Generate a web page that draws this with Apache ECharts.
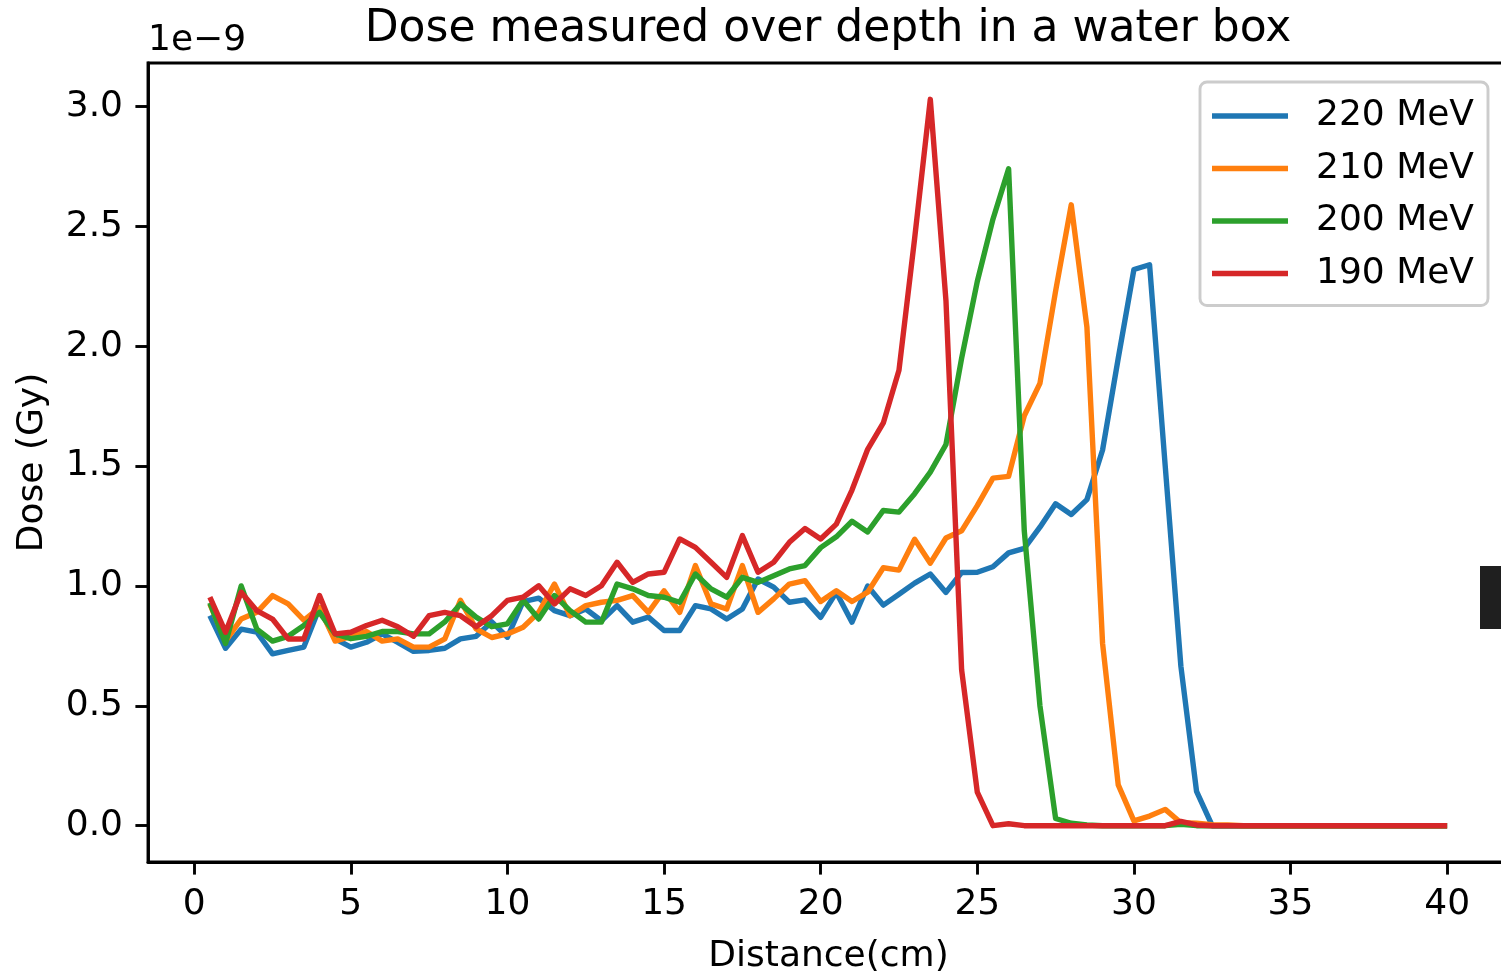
<!DOCTYPE html>
<html>
<head>
<meta charset="utf-8">
<title>Dose measured over depth in a water box</title>
<script src="https://cdn.jsdelivr.net/npm/echarts@6.0.0/dist/echarts.min.js"></script>
<style>
  html, body { margin: 0; padding: 0; background: #ffffff; }
  #doseChart { width: 1501px; height: 973px; }
</style>
</head>
<body>
<div id="doseChart"></div>
<script>
// depth in the water box (cm)
var distance = [
  0.5, 1, 1.5, 2, 2.5, 3, 3.5, 4, 4.5, 5, 5.5, 6, 6.5, 7, 7.5, 8, 8.5, 9, 9.5, 10,
  10.5, 11, 11.5, 12, 12.5, 13, 13.5, 14, 14.5, 15, 15.5, 16, 16.5, 17, 17.5, 18, 18.5, 19, 19.5, 20,
  20.5, 21, 21.5, 22, 22.5, 23, 23.5, 24, 24.5, 25, 25.5, 26, 26.5, 27, 27.5, 28, 28.5, 29, 29.5, 30,
  30.5, 31, 31.5, 32, 32.5, 33, 33.5, 34, 34.5, 35, 35.5, 36, 36.5, 37, 37.5, 38, 38.5, 39, 39.5, 40
];

// dose, in units of 1e-9 Gy
var dose220 = [
  0.876, 0.74, 0.82, 0.807, 0.717, 0.731, 0.745, 0.91, 0.779, 0.745, 0.765, 0.80, 0.765, 0.727, 0.731, 0.74, 0.779, 0.79, 0.85, 0.786,
  0.935, 0.949, 0.897, 0.876, 0.904, 0.855, 0.918, 0.849, 0.87, 0.814, 0.814, 0.918, 0.904, 0.862, 0.904, 1.029, 0.995, 0.932, 0.942, 0.869,
  0.973, 0.849, 1.0, 0.92, 0.965, 1.012, 1.05, 0.973, 1.056, 1.057, 1.08, 1.138, 1.157, 1.245, 1.343, 1.298, 1.36, 1.567, 1.95, 2.32,
  2.34, 1.5, 0.665, 0.143, 0, 0, 0, 0, 0, 0, 0, 0, 0, 0, 0, 0, 0, 0, 0, 0
];
var dose210 = [
  0.925, 0.77, 0.862, 0.89, 0.96, 0.925, 0.857, 0.91, 0.77, 0.79, 0.81, 0.77, 0.779, 0.745, 0.745, 0.779, 0.94, 0.821, 0.785, 0.80,
  0.828, 0.89, 1.008, 0.876, 0.918, 0.932, 0.94, 0.96, 0.89, 0.98, 0.89, 1.085, 0.925, 0.904, 1.085, 0.89, 0.946, 1.008, 1.022, 0.935,
  0.98, 0.935, 0.974, 1.076, 1.066, 1.195, 1.095, 1.20, 1.23, 1.335, 1.45, 1.457, 1.71, 1.845, 2.23, 2.59, 2.08, 0.76, 0.17, 0.02,
  0.04, 0.068, 0.012, 0.01, 0.004, 0.003, 0, 0, 0, 0, 0, 0, 0, 0, 0, 0, 0, 0, 0, 0
];
var dose200 = [
  0.93, 0.76, 1.0, 0.82, 0.77, 0.79, 0.835, 0.89, 0.80, 0.78, 0.79, 0.81, 0.81, 0.80, 0.80, 0.85, 0.925, 0.87, 0.83, 0.842,
  0.94, 0.862, 0.96, 0.897, 0.849, 0.849, 1.008, 0.988, 0.96, 0.953, 0.932, 1.05, 0.988, 0.953, 1.036, 1.015, 1.043, 1.071, 1.085, 1.16,
  1.205, 1.27, 1.225, 1.315, 1.308, 1.385, 1.475, 1.59, 1.95, 2.27, 2.53, 2.74, 1.23, 0.50, 0.03, 0.01, 0.003, 0, 0, 0,
  0, 0, 0.006, 0, 0, 0, 0, 0, 0, 0, 0, 0, 0, 0, 0, 0, 0, 0, 0, 0
];
var dose190 = [
  0.953, 0.807, 0.974, 0.897, 0.862, 0.779, 0.779, 0.96, 0.80, 0.807, 0.835, 0.857, 0.83, 0.79, 0.876, 0.89, 0.876, 0.83, 0.876, 0.94,
  0.953, 1.001, 0.925, 0.988, 0.96, 1.001, 1.099, 1.015, 1.05, 1.057, 1.196, 1.161, 1.099, 1.036, 1.21, 1.057, 1.099, 1.182, 1.24, 1.196,
  1.258, 1.40, 1.57, 1.68, 1.90, 2.45, 3.03, 2.19, 0.65, 0.14, 0, 0.008, 0, 0, 0, 0, 0, 0, 0, 0,
  0, 0, 0.018, 0.003, 0, 0, 0, 0, 0, 0, 0, 0, 0, 0, 0, 0, 0, 0, 0, 0
];

var energyNames = ["220 MeV", "210 MeV", "200 MeV", "190 MeV"];
var xTicks = [0, 5, 10, 15, 20, 25, 30, 35, 40];
var yTicks = [0, 0.5, 1, 1.5, 2, 2.5, 3];

var fontName = "DejaVu Sans";
var doseChart = echarts.init(document.getElementById("doseChart"));

// pair every dose value with its depth
function toPoints(values) {
  return values.map(function (v, i) {
    return [distance[i], v];
  });
}

function makeSeries(name, values) {
  return {
    name: name,
    type: "line",
    data: toPoints(values),
    showSymbol: false,
    symbol: "none",
    lineStyle: { width: 5.4, join: "round" }
  };
}

var option = {
  animation: false,
  color: ["#1f77b4", "#ff7f0e", "#2ca02c", "#d62728"],
  textStyle: { fontFamily: fontName, color: "#000000" },
  title: [
    {
      text: "Dose measured over depth in a water box",
      left: 828,
      top: 30,
      padding: 0,
      textAlign: "center",
      textVerticalAlign: "middle",
      textStyle: { fontSize: 44, fontWeight: "normal", color: "#000000", fontFamily: fontName }
    },
    {
      text: "1e\u22129", // axis offset text
      left: 148,
      top: 41,
      padding: 0,
      textAlign: "left",
      textVerticalAlign: "middle",
      textStyle: { fontSize: 36, fontWeight: "normal", color: "#000000", fontFamily: fontName }
    }
  ],
  legend: {
    orient: "vertical",
    left: 1200,
    top: 82,
    padding: [16, 14, 14, 12],
    itemWidth: 76,
    itemHeight: 5.4,
    itemGap: 16.5,
    icon: "rect",
    backgroundColor: "rgba(255,255,255,0.8)",
    borderColor: "#cccccc",
    borderWidth: 2.9,
    borderRadius: 7,
    textStyle: { fontSize: 36, color: "#000000", fontFamily: fontName, padding: [0, 0, 0, 23] },
    data: energyNames
  },
  grid: {
    left: 148,
    top: 63,
    width: 1361, // right spine falls just outside the picture
    height: 799,
    outerBoundsMode: "none",
    show: true,
    borderColor: "#000000",
    borderWidth: 2.9
  },
  xAxis: {
    type: "value",
    min: -1.475,
    max: 41.975,
    name: "Distance(cm)",
    nameLocation: "middle",
    nameGap: 77,
    nameTextStyle: { fontSize: 36, color: "#000000", fontFamily: fontName },
    axisLine: { show: true, onZero: false, lineStyle: { color: "#000000", width: 2.9 } },
    axisTick: { show: true, length: 12.6, customValues: xTicks, lineStyle: { color: "#000000", width: 2.9 } },
    axisLabel: {
      show: true,
      fontSize: 36,
      color: "#000000",
      fontFamily: fontName,
      margin: 25,
      customValues: xTicks,
      formatter: function (v) { return String(v); }
    },
    splitLine: { show: false }
  },
  yAxis: {
    type: "value",
    min: -0.1515,
    max: 3.1815,
    name: "Dose (Gy)",
    nameLocation: "middle",
    nameRotate: 90,
    nameGap: 97,
    nameTextStyle: { fontSize: 36, color: "#000000", fontFamily: fontName },
    axisLine: { show: true, onZero: false, lineStyle: { color: "#000000", width: 2.9 } },
    axisTick: { show: true, length: 12.6, customValues: yTicks, lineStyle: { color: "#000000", width: 2.9 } },
    axisLabel: {
      show: true,
      fontSize: 36,
      color: "#000000",
      fontFamily: fontName,
      margin: 25,
      customValues: yTicks,
      formatter: function (v) { return v.toFixed(1); }
    },
    splitLine: { show: false }
  },
  graphic: [
    // dark block on the right edge of the original picture
    { type: "rect", shape: { x: 1480, y: 566, width: 21, height: 63 }, style: { fill: "#1f1f1f" } }
  ],
  series: [
    makeSeries(energyNames[0], dose220),
    makeSeries(energyNames[1], dose210),
    makeSeries(energyNames[2], dose200),
    makeSeries(energyNames[3], dose190)
  ]
};

doseChart.setOption(option);
</script>
</body>
</html>
